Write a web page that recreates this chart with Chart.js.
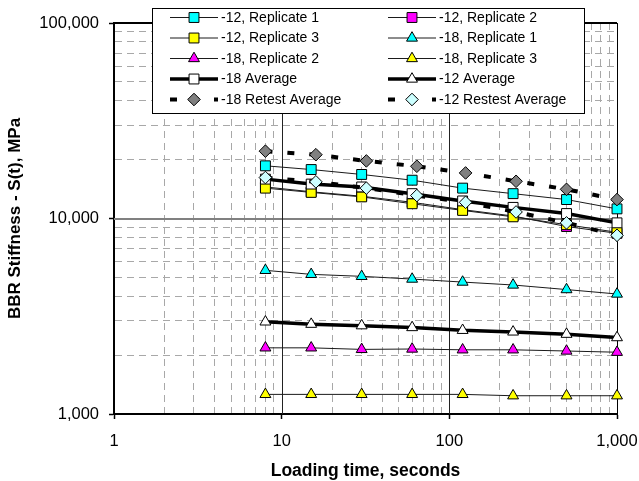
<!DOCTYPE html>
<html>
<head>
<meta charset="utf-8">
<script src="https://cdn.jsdelivr.net/npm/chart.js@4/dist/chart.umd.min.js"></script>
<style>
  body { margin: 0; background: #fff; }
  #wrap { width: 639px; height: 481px; }
</style>
</head>
<body>
<div id="wrap"><canvas id="bbr" width="639" height="481"></canvas></div>
<script>
// loading times, seconds
const loadTime = [8, 15, 30, 60, 120, 240, 500, 1000];
const retestTime = [8, 16, 32, 64, 125, 250, 500, 1000];

// BBR stiffness S(t), MPa
const m12Rep1 = [18600, 17800, 16800, 15700, 14300, 13400, 12500, 11200];
const m12Rep2 = [14500, 13700, 13000, 12100, 11100, 10300, 9100, 8400];
const m12Rep3 = [14300, 13600, 12900, 11900, 11000, 10200, 9300, 8500];
const m18Rep1 = [5430, 5180, 5060, 4900, 4730, 4570, 4330, 4110];
const m18Rep2 = [2180, 2180, 2140, 2150, 2130, 2130, 2100, 2070];
const m18Rep3 = [1260, 1260, 1260, 1260, 1260, 1240, 1240, 1240];
const m18Avg = [15900, 15000, 14500, 13400, 12300, 11400, 10600, 9500];
const m12Avg = [2960, 2880, 2830, 2770, 2680, 2630, 2560, 2460];
const m18Retest = [22100, 21200, 19700, 18500, 17100, 15500, 14100, 12500];
const m12Retest = [16200, 15400, 14300, 13100, 12100, 10800, 9500, 8200];

const xTickValues = [];
for (let e = 0; e < 3; e++)
    for (let m = 1; m < 10; m++) xTickValues.push(m * Math.pow(10, e));
xTickValues.push(1000);

const yTickValues = [];
for (let e = 3; e < 5; e++)
    for (let m = 1; m < 10; m++) yTickValues.push(m * Math.pow(10, e));
yTickValues.push(100000);

const FONT = "'Liberation Sans', Arial, sans-serif";

function pts(xs, ys) {
    return ys.map((v, i) => ({ x: xs[i], y: v }));
}

function series(label, xs, ys, style, fill, opts = {}) {
    return Object.assign({
        label: label,
        data: pts(xs, ys),
        borderColor: '#1a1a1a',
        borderWidth: 1,
        borderDash: [],
        pointStyle: style,
        pointRadius: style === 'rect' ? 7 : 6.3,
        pointHoverRadius: style === 'rect' ? 7 : 6.3,
        pointBackgroundColor: fill,
        pointBorderColor: '#000',
        pointBorderWidth: 1,
        tension: 0,
        clip: false
    }, opts);
}

const datasets = [
    series('-12, Replicate 1', loadTime, m12Rep1, 'rect', '#00ffff'),
    series('-12, Replicate 2', loadTime, m12Rep2, 'rect', '#ff00ff'),
    series('-12, Replicate 3', loadTime, m12Rep3, 'rect', '#ffff00'),
    series('-18, Replicate 1', loadTime, m18Rep1, 'triangle', '#00ffff'),
    series('-18, Replicate 2', loadTime, m18Rep2, 'triangle', '#ff00ff'),
    series('-18, Replicate 3', loadTime, m18Rep3, 'triangle', '#ffff00'),
    series('-18 Average', loadTime, m18Avg, 'rect', '#ffffff', { borderColor: '#000', borderWidth: 3.5 }),
    series('-12 Average', loadTime, m12Avg, 'triangle', '#ffffff', { borderColor: '#000', borderWidth: 3.5 }),
    series('-18 Retest Average', retestTime, m18Retest, 'rectRot', '#808080', { borderColor: '#000', borderWidth: 4, borderDash: [7, 15] }),
    series('-12 Restest Average', retestTime, m12Retest, 'rectRot', '#ccffff', { borderColor: '#000', borderWidth: 4, borderDash: [7, 15] })
];
// later series sit on top
datasets.forEach((d, i) => d.order = datasets.length - i);

// solid decade lines and the top/right frame
const majorLines = {
    id: 'majorLines',
    beforeDatasetsDraw(chart) {
        const { ctx, chartArea: a, scales: { x, y } } = chart;
        ctx.save();
        ctx.setLineDash([]);
        ctx.strokeStyle = '#808080';
        ctx.lineWidth = 2;
        y.ticks.filter(t => t.major && t.value > y.min && t.value < y.max).forEach(t => {
            const py = Math.round(y.getPixelForValue(t.value));
            ctx.beginPath(); ctx.moveTo(a.left, py); ctx.lineTo(a.right, py); ctx.stroke();
        });
        ctx.strokeStyle = '#222';
        ctx.lineWidth = 1;
        x.ticks.filter(t => t.major && t.value > x.min && t.value < x.max).forEach(t => {
            const px = Math.round(x.getPixelForValue(t.value)) + 0.5;
            ctx.beginPath(); ctx.moveTo(px, a.top); ctx.lineTo(px, a.bottom); ctx.stroke();
        });
        ctx.strokeStyle = '#000';
        ctx.lineWidth = 2;
        ctx.beginPath(); ctx.moveTo(a.left, a.top); ctx.lineTo(a.right, a.top); ctx.stroke();
        ctx.lineWidth = 1;
        const rx = Math.round(a.right) + 0.5;
        ctx.beginPath(); ctx.moveTo(rx, a.top); ctx.lineTo(rx, a.bottom); ctx.stroke();
        ctx.restore();
    }
};

// two-column legend box with line + marker samples
const legendBox = {
    id: 'legendBox',
    afterDraw(chart) {
        const ctx = chart.ctx;
        ctx.save();
        ctx.fillStyle = '#fff';
        ctx.fillRect(152.5, 8.5, 432, 105);
        ctx.strokeStyle = '#000';
        ctx.lineWidth = 1;
        ctx.strokeRect(152.5, 8.5, 432, 105);
        chart.data.datasets.forEach((ds, i) => {
            const col = i % 2;
            const row = Math.floor(i / 2);
            const x0 = col ? 388 : 170;
            const yc = 17.5 + row * 20.5;
            ctx.beginPath();
            ctx.setLineDash(ds.borderDash);
            ctx.lineWidth = ds.borderWidth;
            ctx.strokeStyle = ds.borderColor;
            ctx.moveTo(x0, yc);
            ctx.lineTo(x0 + 48, yc);
            ctx.stroke();
            ctx.setLineDash([]);
            ctx.fillStyle = ds.pointBackgroundColor;
            ctx.strokeStyle = ds.pointBorderColor;
            ctx.lineWidth = 1;
            Chart.helpers.drawPoint(ctx, { pointStyle: ds.pointStyle, radius: ds.pointRadius, borderWidth: 1, rotation: 0 }, x0 + 24, yc);
            ctx.fillStyle = '#000';
            ctx.font = '14px ' + FONT;
            ctx.textBaseline = 'middle';
            ctx.textAlign = 'left';
            ctx.fillText(ds.label, x0 + 51, yc + 0.5);
        });
        ctx.restore();
    }
};

const decadeLabel = (v) => {
    const e = Math.log10(v);
    return Math.abs(e - Math.round(e)) < 1e-9 ? Number(v).toLocaleString('en-US') : '';
};

new Chart(document.getElementById('bbr').getContext('2d'), {
    type: 'line',
    data: { datasets: datasets },
    options: {
        responsive: false,
        animation: false,
        layout: { padding: { top: 23, right: 22, bottom: 0, left: 0 } },
        plugins: {
            legend: { display: false },
            tooltip: { enabled: false }
        },
        scales: {
            x: {
                type: 'logarithmic',
                min: 1,
                max: 1000,
                afterBuildTicks: (s) => {
                    s.ticks = xTickValues.map(v => ({ value: v, major: decadeLabel(v) !== '' }));
                },
                afterFit: (s) => { s.height = 67; s.paddingLeft = 0; s.paddingRight = 0; },
                ticks: {
                    autoSkip: false,
                    maxRotation: 0,
                    padding: 13,
                    color: '#000',
                    font: { family: FONT, size: 16.5 },
                    callback: (v) => decadeLabel(v)
                },
                grid: {
                    color: (c) => c.tick && !c.tick.major ? '#a8a8a8' : 'rgba(0,0,0,0)',
                    lineWidth: 1,
                    tickLength: 5,
                    tickColor: (c) => c.tick && c.tick.major ? '#000' : 'rgba(0,0,0,0)',
                    tickWidth: 1.5
                },
                border: { display: true, color: '#000', width: 2, dash: [7, 5] },
                title: {
                    display: true,
                    text: 'Loading time, seconds',
                    color: '#000',
                    font: { family: FONT, size: 17.5, weight: 'bold' },
                    padding: { top: 0, bottom: -1 }
                }
            },
            y: {
                type: 'logarithmic',
                min: 1000,
                max: 100000,
                afterBuildTicks: (s) => {
                    s.ticks = yTickValues.map(v => ({ value: v, major: decadeLabel(v) !== '' }));
                },
                afterFit: (s) => { s.width = 114; s.paddingTop = 0; s.paddingBottom = 0; },
                ticks: {
                    autoSkip: false,
                    padding: 10,
                    color: '#000',
                    font: { family: FONT, size: 16.5 },
                    callback: (v) => decadeLabel(v)
                },
                grid: {
                    color: (c) => c.tick && !c.tick.major ? '#a8a8a8' : 'rgba(0,0,0,0)',
                    lineWidth: 1,
                    tickLength: 5,
                    tickColor: (c) => c.tick && c.tick.major ? '#000' : 'rgba(0,0,0,0)',
                    tickWidth: 1.5
                },
                border: { display: true, color: '#000', width: 2, dash: [7, 5] },
                title: {
                    display: true,
                    text: 'BBR Stiffness - S(t), MPa',
                    color: '#000',
                    font: { family: FONT, size: 17, weight: 'bold' },
                    padding: { top: 5.5, bottom: 0 }
                }
            }
        }
    },
    plugins: [majorLines, legendBox]
});
</script>
</body>
</html>
